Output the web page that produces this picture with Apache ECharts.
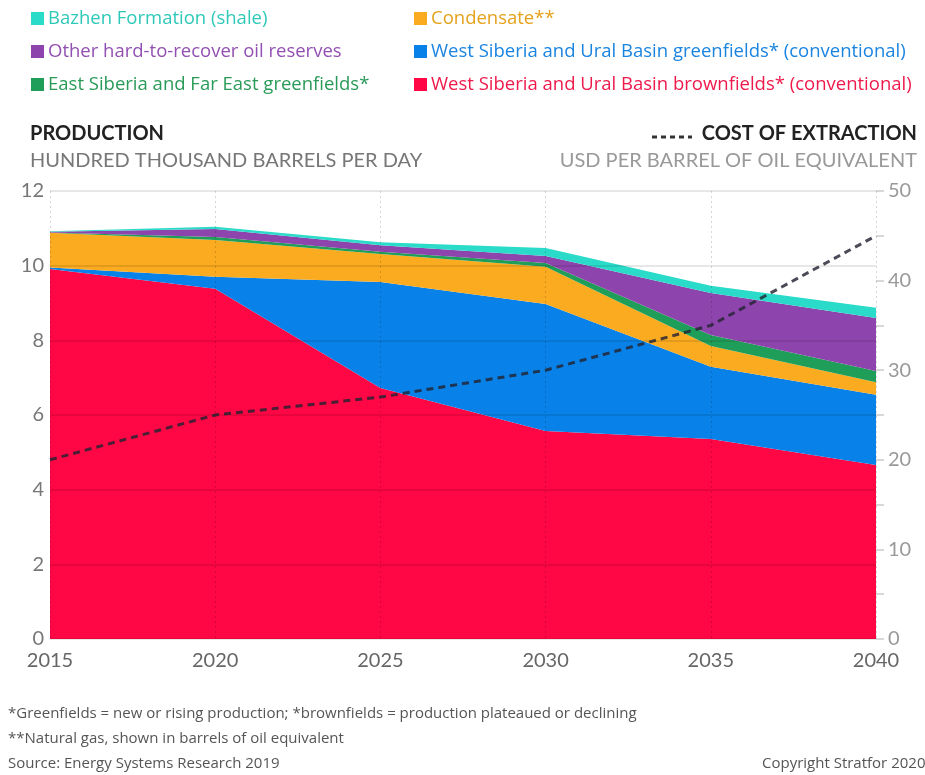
<!DOCTYPE html>
<html>
<head>
<meta charset="utf-8">
<script src="https://cdn.jsdelivr.net/npm/echarts@6/dist/echarts.min.js"></script>
<style>
html,body{margin:0;padding:0;background:#fff;}
#chart{width:925px;height:775px;}
</style>
</head>
<body>
<div id="chart"></div>
<script>
var years = ['2015', '2020', '2025', '2030', '2035', '2040'];
var wsBrownfields = [9.91, 9.38, 6.72, 5.57, 5.36, 4.66];
var wsGreenfields = [0.04, 0.32, 2.84, 3.40, 1.93, 1.88];
var condensate = [0.93, 0.99, 0.75, 1.00, 0.56, 0.34];
var eastSiberia = [0.01, 0.08, 0.06, 0.10, 0.29, 0.30];
var otherHard = [0.02, 0.21, 0.18, 0.19, 1.13, 1.42];
var bazhen = [0.01, 0.06, 0.08, 0.21, 0.19, 0.27];
var costOfExtraction = [20, 25, 27, 30, 35, 45];

var FONT = 'Lato, "Open Sans", sans-serif';
var FONT2 = '"Open Sans", Lato, sans-serif';
var names = {
  bazhen: 'Bazhen Formation (shale)',
  condensate: 'Condensate**',
  other: 'Other hard-to-recover oil reserves',
  wsg: 'West Siberia and Ural Basin greenfields* (conventional)',
  esg: 'East Siberia and Far East greenfields*',
  wsb: 'West Siberia and Ural Basin brownfields* (conventional)'
};
var colors = {
  bazhen: '#2adbc9', condensate: '#fbab1f', other: '#8e44ad',
  wsg: '#0882e8', esg: '#1f9e59', wsb: '#ff0645'
};
var textColors = {
  bazhen: '#2ec9b8', condensate: '#e5a21c', other: '#9250b2',
  wsg: '#1a84e0', esg: '#2a9a58', wsb: '#ee1a4c'
};

function area(key, data) {
  return {
    name: names[key], type: 'line', stack: 'prod', data: data,
    symbol: 'none', lineStyle: {width: 0}, itemStyle: {color: colors[key]},
    areaStyle: {color: colors[key], opacity: 1}, z: 2
  };
}
function legItem(key) {
  return {name: names[key], icon: 'rect', itemStyle: {color: colors[key]}, textStyle: {color: textColors[key]}};
}

var chart = echarts.init(document.getElementById('chart'));
chart.setOption({
  backgroundColor: '#fff',
  animation: false,
  textStyle: {fontFamily: FONT},
  legend: [
    {orient: 'vertical', left: 26, top: 4, itemWidth: 13, itemHeight: 13, itemGap: 14,
     textStyle: {fontFamily: FONT2, fontSize: 18.5, lineHeight: 19, padding: [0,0,0,-1]},
     data: [legItem('bazhen'), legItem('other'), legItem('esg')]},
    {orient: 'vertical', left: 409, top: 4, itemWidth: 13, itemHeight: 13, itemGap: 14,
     textStyle: {fontFamily: FONT2, fontSize: 18.5, lineHeight: 19, padding: [0,0,0,-1]},
     data: [legItem('condensate'), legItem('wsg'), legItem('wsb')]}
  ],
  grid: {left: 50, right: 49, top: 191, bottom: 136, containLabel: false},
  xAxis: {
    type: 'category', data: years, boundaryGap: false,
    axisLine: {show: false}, axisTick: {show: false},
    axisLabel: {color: '#666', fontSize: 20, margin: 12, fontFamily: FONT},
    splitLine: {show: true, lineStyle: {color: 'rgba(0,0,0,0.16)', type: [2, 3], width: 1}},
    z: 5
  },
  yAxis: [
    {type: 'value', min: 0, max: 12, interval: 2, position: 'left',
     axisLine: {show: false}, axisTick: {show: false},
     axisLabel: {color: '#777', fontSize: 20, margin: 6, fontFamily: FONT},
     splitLine: {show: true, lineStyle: {color: 'rgba(0,0,0,0.13)', width: 1.5}},
     z: 5},
    {type: 'value', min: 0, max: 50, interval: 5, position: 'right',
     axisLine: {show: false},
     axisTick: {show: true, length: 8, lineStyle: {color: '#ccc', width: 1.5}},
     axisLabel: {color: '#999', fontSize: 20, margin: 12, fontFamily: FONT,
       formatter: function (v) { return v % 10 === 0 ? String(v) : ''; }},
     splitLine: {show: false}}
  ],
  series: [
    area('wsb', wsBrownfields),
    area('wsg', wsGreenfields),
    area('condensate', condensate),
    area('esg', eastSiberia),
    area('other', otherHard),
    area('bazhen', bazhen),
    {name: 'Cost of extraction', type: 'line', yAxisIndex: 1, data: costOfExtraction,
     symbol: 'none', z: 10,
     lineStyle: {color: 'rgba(35,35,50,0.82)', width: 3, type: [7, 5]}}
  ],
  graphic: [
    {type: 'text', left: 30, top: 124, style: {text: 'PRODUCTION', font: 'bold 20px ' + FONT, fill: '#222'}},
    {type: 'text', left: 30, top: 151, style: {text: 'HUNDRED THOUSAND BARRELS PER DAY', font: '20px ' + FONT, fill: '#777'}},
    {type: 'text', right: 8, top: 124, style: {text: 'COST OF EXTRACTION', font: 'bold 20px ' + FONT, fill: '#222'}},
    {type: 'text', right: 8, top: 151, style: {text: 'USD PER BARREL OF OIL EQUIVALENT', font: '20px ' + FONT, fill: '#999'}},
    {type: 'line', shape: {x1: 652, y1: 137, x2: 692, y2: 137}, style: {stroke: '#333', lineWidth: 3, lineDash: [5, 4]}},
    {type: 'text', left: 8, top: 706, style: {text: '*Greenfields = new or rising production; *brownfields = production plateaued or declining', font: '15px ' + FONT2, fill: '#555'}},
    {type: 'text', left: 8, top: 731, style: {text: '**Natural gas, shown in barrels of oil equivalent', font: '15px ' + FONT2, fill: '#555'}},
    {type: 'text', left: 8, top: 756, style: {text: 'Source: Energy Systems Research 2019', font: '15px ' + FONT2, fill: '#555'}},
    {type: 'text', left: 762, top: 756, style: {text: 'Copyright Stratfor 2020', font: '15px ' + FONT2, fill: '#555'}}
  ]
});
</script>
</body>
</html>
